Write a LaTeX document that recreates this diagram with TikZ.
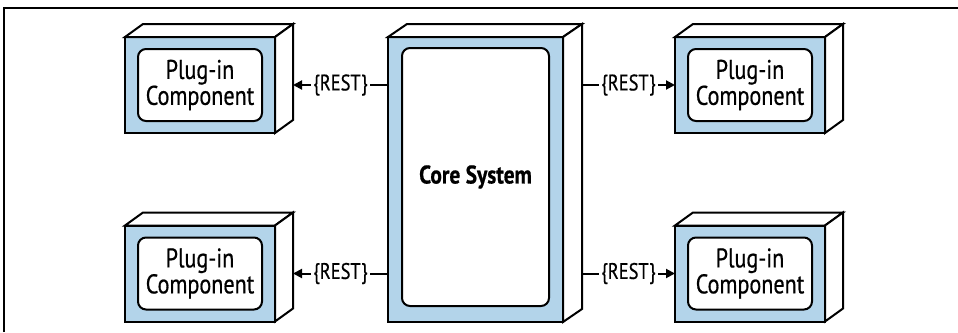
\documentclass[tikz,border=0pt]{standalone}
\usepackage{fontspec}
\setmainfont{PT Sans}[FakeStretch=0.82, FakeBold=0.6, BoldFeatures={FakeStretch=0.84}]
\usetikzlibrary{arrows.meta,calc}
\definecolor{boxblue}{HTML}{B3D4EA}
\tikzset{
  front/.style={draw, line width=2pt, fill=boxblue, inner sep=0pt, outer sep=0pt},
  face/.style={draw, line width=2pt, fill=white, line join=miter},
  inner/.style={draw, line width=2pt, fill=white, rounded corners=8pt, inner sep=0pt, outer sep=0pt, align=center, font=\fontsize{27}{24}\selectfont},
  conn/.style={line width=2pt, -{Triangle[length=9pt,width=9pt]}},
  lbl/.style={fill=white, inner sep=2pt, font=\fontsize{22.5}{24}\selectfont}
}
\newcommand{\cubefaces}[3]{% node, dx, dy
  \draw[face] (#1.north west) -- ++(#2,-#3) -- ($(#1.north east)+(#2,-#3)$) -- (#1.north east) -- cycle;
  \draw[face] (#1.north east) -- ++(#2,-#3) -- ($(#1.south east)+(#2,-#3)$) -- (#1.south east) -- cycle;
}
\begin{document}
\begin{tikzpicture}[x=1pt,y=-1pt]
\useasboundingbox (0,0) rectangle (958,332);
\draw[line width=1.5pt] (4,332) -- (4,8) -- (958,8);

% core
\node[front, minimum width=175pt, minimum height=285pt] (core) at (475.5,179.5) {};
\cubefaces{core}{19}{13}
\node[inner, minimum width=147pt, minimum height=258pt, font=\bfseries\fontsize{25.5}{26}\selectfont] (coreIn) at (475.5,177) {Core System};

% plug-ins
\foreach \n/\cx/\cy in {tl/200/85, bl/200/273.5, tr/750/85, br/750/273.5}{
  \node[front, minimum width=150pt, minimum height=96pt] (\n) at (\cx,\cy) {};
  \cubefaces{\n}{18}{13}
  \node[inner, minimum width=124pt, minimum height=72pt] (\n In) at (\cx,\cy) {Plug-in\\Component};
}

% connectors
\coordinate (tlE) at ($(tl.east)+(18,0)$);
\coordinate (blE) at ($(bl.east)+(18,0)$);
\coordinate (coreTR) at ($(core.east |- tr.west)+(19,0)$);
\coordinate (coreBR) at ($(core.east |- br.west)+(19,0)$);
\draw[conn] (core.west |- tl.east) -- node[lbl]{\{REST\}} (tlE);
\draw[conn] (core.west |- bl.east) -- node[lbl]{\{REST\}} (blE);
\draw[conn] (coreTR) -- node[lbl]{\{REST\}} (tr.west);
\draw[conn] (coreBR) -- node[lbl]{\{REST\}} (br.west);
\end{tikzpicture}
\end{document}
